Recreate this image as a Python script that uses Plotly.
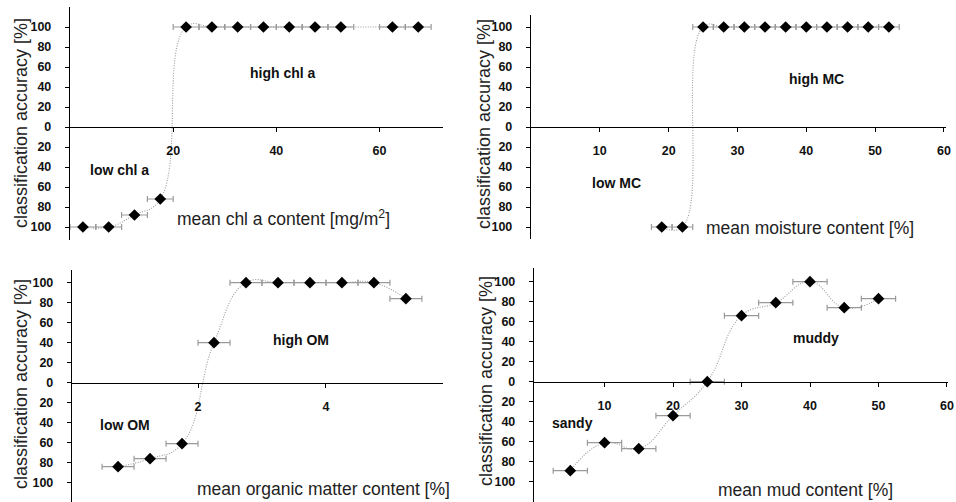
import plotly.graph_objects as go

W, H = 956, 502

# ---- data ----
chl_x = [2.5, 7.5, 12.5, 17.5, 22.5, 27.5, 32.5, 37.5, 42.5, 47.5, 52.5, 62.5, 67.5]
chl_y = [-100, -100, -88, -72, 100, 100, 100, 100, 100, 100, 100, 100, 100]
chl_err = [2.5, 2.5, 2.5, 2.5, 2.5, 2.5, 2.5, 2.5, 2.5, 2.5, 2.5, 2.5, 2.5]

mc_x = [19, 22, 25, 28, 31, 34, 37, 40, 43, 46, 49, 52]
mc_y = [-100, -100, 100, 100, 100, 100, 100, 100, 100, 100, 100, 100]
mc_err = [1.5, 1.5, 1.5, 1.5, 1.5, 1.5, 1.5, 1.5, 1.5, 1.5, 1.5, 1.5]

om_x = [0.75, 1.25, 1.75, 2.25, 2.75, 3.25, 3.75, 4.25, 4.75, 5.25]
om_y = [-84, -76, -61, 40, 100, 100, 100, 100, 100, 84]
om_err = [0.25, 0.25, 0.25, 0.25, 0.25, 0.25, 0.25, 0.25, 0.25, 0.25]

mud_x = [5, 10, 15, 20, 25, 30, 35, 40, 45, 50]
mud_y = [-89, -61, -67, -34, 0, 66, 79, 100, 74, 83]
mud_err = [2.5, 2.5, 2.5, 2.5, 2.5, 2.5, 2.5, 2.5, 2.5, 2.5]

y_ticks = [-100, -80, -60, -40, -20, 0, 20, 40, 60, 80, 100]
y_ticktext = ["100", "80", "60", "40", "20", "0", "20", "40", "60", "80", "100"]

y_title = "classification accuracy [%]"

panels = [
    dict(x=chl_x, y=chl_y, e=chl_err, xpx=(70, 443), xr=[0, 72.3], ypx=(7, 240), yr=[-113, 120],
         xt=[20, 40, 60], hi="high chl a", hipos=(41.3, 54), lo="low chl a", lopos=(9.5, -43),
         title="mean chl a content [mg/m<sup>2</sup>]", tpos=(41.4, -91), ytx=21, yty=123),
    dict(x=mc_x, y=mc_y, e=mc_err, xpx=(531, 946), xr=[0, 60.3], ypx=(15, 239), yr=[-112, 112],
         xt=[10, 20, 30, 40, 50, 60], hi="high MC", hipos=(41.5, 48), lo="low MC", lopos=(12.4, -56),
         title="mean moisture content [%]", tpos=(40.6, -101), ytx=484, yty=124),
    dict(x=om_x, y=om_y, e=om_err, xpx=(72, 443), xr=[0.03, 5.83], ypx=(270, 502), yr=[-119.3, 112.7],
         xt=[2, 4], hi="high OM", hipos=(3.61, 43), lo="low OM", lopos=(0.86, -42),
         title="mean organic matter content [%]", tpos=(3.96, -106.5), ytx=21, yty=384),
    dict(x=mud_x, y=mud_y, e=mud_err, xpx=(534, 948), xr=[-0.3, 60.15], ypx=(268, 502), yr=[-120.3, 113.7],
         xt=[10, 20, 30, 40, 50, 60], hi="muddy", hipos=(40.9, 44), lo="sandy", lopos=(5.3, -41),
         title="mean mud content [%]", tpos=(39.3, -108), ytx=486, yty=381),
]

FONT = "Liberation Sans, Arial, sans-serif"


def px_x(px):
    return px / W


def px_y(py):
    return (H - py) / H


fig = go.Figure()
layout = dict(
    width=W, height=H, margin=dict(l=0, r=0, t=0, b=0, autoexpand=False),
    paper_bgcolor="white", plot_bgcolor="white", showlegend=False, hovermode=False,
    font=dict(family=FONT, color="#111"),
)
annotations = []

for i, p in enumerate(panels, start=1):
    xa = "x" if i == 1 else f"x{i}"
    ya = "y" if i == 1 else f"y{i}"
    fig.add_trace(go.Scatter(
        x=p["x"], y=p["y"], xaxis=xa, yaxis=ya, mode="lines+markers",
        line=dict(color="#9c9c9c", width=1.1, dash="1px,1.5px", shape="spline", smoothing=1.3),
        marker=dict(symbol="diamond", size=9, color="black"),
        error_x=dict(type="data", array=p["e"], color="#9a9a9a", thickness=1.2, width=3),
        cliponaxis=False,
    ))
    dom_x = [px_x(p["xpx"][0]), px_x(p["xpx"][1])]
    ybot, ytop = p["ypx"][1], p["ypx"][0]
    dom_y = [px_y(ybot), px_y(ytop)]
    y0, y1 = p["yr"]
    zero_pos = dom_y[0] + (0 - y0) / (y1 - y0) * (dom_y[1] - dom_y[0])
    key_x = "xaxis" if i == 1 else f"xaxis{i}"
    key_y = "yaxis" if i == 1 else f"yaxis{i}"
    layout[key_x] = dict(
        domain=dom_x, range=p["xr"], anchor="free", position=zero_pos, automargin=False,
        showline=True, linecolor="black", linewidth=1.3, showgrid=False, zeroline=False,
        tickvals=p["xt"], ticks="outside", ticklen=4, tickcolor="black",
        ticklabelstandoff=8,
        tickfont=dict(family=FONT, size=12.5, color="#111", weight="bold"),
    )
    layout[key_y] = dict(
        domain=dom_y, range=[y0, y1], anchor=xa, automargin=False,
        showline=True, linecolor="black", linewidth=1.2, showgrid=False, zeroline=False,
        tickvals=y_ticks, ticktext=y_ticktext, ticks="outside", ticklen=4, tickcolor="black",
        ticklabelstandoff=11,
        tickfont=dict(family=FONT, size=12.5, color="#111", weight="bold"),
    )
    common = dict(showarrow=False, xanchor="center", yanchor="middle")
    annotations.append(dict(x=p["hipos"][0], y=p["hipos"][1], xref=xa, yref=ya, text=f"<b>{p['hi']}</b>",
                            font=dict(family=FONT, size=14, color="#111"), **common))
    annotations.append(dict(x=p["lopos"][0], y=p["lopos"][1], xref=xa, yref=ya, text=f"<b>{p['lo']}</b>",
                            font=dict(family=FONT, size=14, color="#111"), **common))
    annotations.append(dict(x=p["tpos"][0], y=p["tpos"][1], xref=xa, yref=ya, text=p["title"],
                            font=dict(family=FONT, size=17.5, color="#222"), **common))
    annotations.append(dict(x=px_x(p["ytx"]), y=px_y(p["yty"]), xref="paper", yref="paper",
                            text=y_title, textangle=-90,
                            font=dict(family=FONT, size=18, color="#222"), **common))

layout["annotations"] = annotations
fig.update_layout(**layout)
fig.write_html("out.html", config={"displayModeBar": False, "staticPlot": True},
               post_script="document.body.style.margin='0px';")
